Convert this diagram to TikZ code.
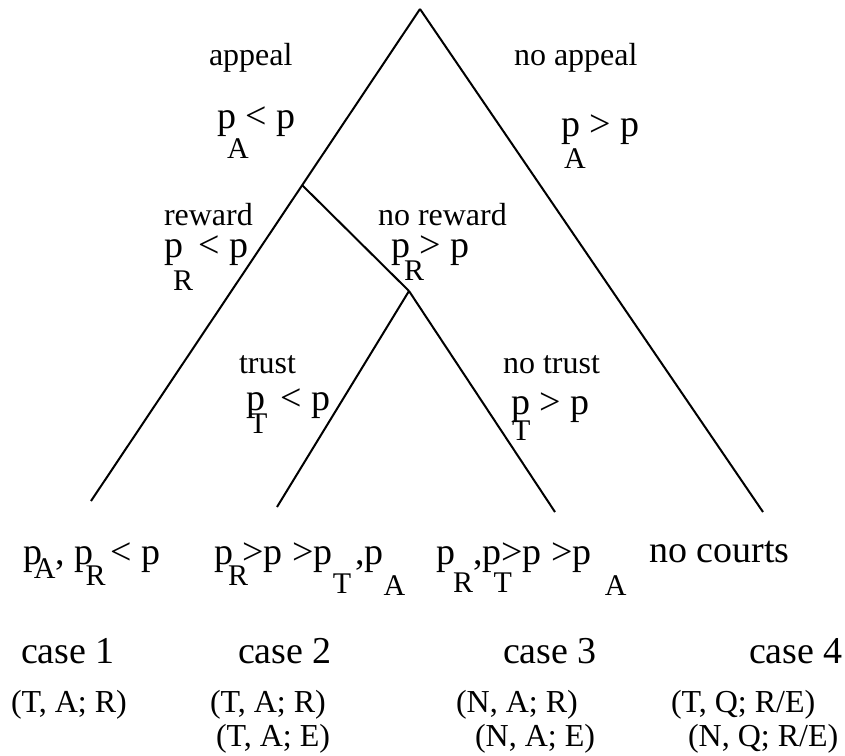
\documentclass[tikz,border=0pt]{standalone}
\usepackage{fontspec}
\setmainfont{Liberation Serif}
\newcommand{\subsz}{\fontsize{15}{15}\selectfont}
\newcommand{\dropsub}[2]{\raisebox{-#1}{\subsz #2}}
\newcommand{\hangsub}[3]{\rlap{\kern#1\dropsub{#2}{#3}}}

\begin{document}
\begin{tikzpicture}[x=0.5pt,y=-0.5pt,line width=1pt,every node/.style={inner sep=0pt,anchor=base west},choice/.style={font=\fontsize{16}{19}\selectfont},cond/.style={font=\fontsize{19}{23}\selectfont},payoff/.style={font=\fontsize{16}{19}\selectfont}]
\useasboundingbox (0,0) rectangle (845,755);
\coordinate (root) at (420,9);
\coordinate (split1) at (302,185);
\coordinate (split2) at (409,291);
\coordinate (leaf1) at (91,501);
\coordinate (leaf2) at (277,507);
\coordinate (leaf3) at (555,512);
\coordinate (leaf4) at (763,512);
\draw (root) -- (leaf1);
\draw (root) -- (leaf4);
\draw (split1) -- (split2);
\draw (split2) -- (leaf2);
\draw (split2) -- (leaf3);
% branch labels
\node[choice] (appeal) at (208,65) {appeal};
\node[cond] (condA) at (216,128) {p\hangsub{-4.5pt}{15pt}{A} < p};
\node[choice] (noappeal) at (513,65) {no appeal};
\node[cond] (condnA) at (560,136) {p\hangsub{-8pt}{16pt}{A} > p};
\node[choice] (reward) at (163,225) {reward};
\node[cond] (condR) at (163,257) {p\hangsub{-5pt}{16.5pt}{R}\kern3pt{} < p};
\node[choice] (noreward) at (377,225) {no reward};
\node[cond] (condnR) at (390,257) {p\hangsub{-3pt}{11.5pt}{R} > p};
\node[choice] (trust) at (238,373) {trust};
\node[cond] (condT) at (245,410) {p\hangsub{-8pt}{11.5pt}{T}\kern3pt{} < p};
\node[choice] (notrust) at (502,373) {no trust};
\node[cond] (condnT) at (510,414) {p\hangsub{-9pt}{13pt}{T} > p};
% outcomes
\node[cond] (out1) at (23,564) {p\kern-4.5pt\dropsub{7pt}{A}, p\hangsub{-4pt}{10.5pt}{R}\kern3.5pt{} < p};
\node[cond] (out2) at (213,564) {p\hangsub{-2.5pt}{10.5pt}{R} >p >p\dropsub{14.5pt}{T}\kern2pt,p\dropsub{15.5pt}{A}};
\node[cond] (out3) at (435,564) {p\kern-1pt\dropsub{14pt}{R},p\hangsub{-4pt}{14pt}{T}>p >p\kern6.5pt\dropsub{15.5pt}{A}};
\node[cond] (out4) at (648,562) {no courts};
\node[cond] (case1) at (20,663) {case 1};
\node[cond] (case2) at (237,663) {case 2};
\node[cond] (case3) at (502,663) {case 3};
\node[cond] (case4) at (748,663) {case 4};
\node[payoff] (eq1a) at (10,712) {(T, A; R)};
\node[payoff] (eq2a) at (209,712) {(T, A; R)};
\node[payoff] (eq2b) at (215,746) {(T, A; E)};
\node[payoff] (eq3a) at (455,712) {(N, A; R)};
\node[payoff] (eq3b) at (474,746) {(N, A; E)};
\node[payoff] (eq4a) at (670,712) {(T, Q; R/E)};
\node[payoff] (eq4b) at (687,746) {(N, Q; R/E)};
\end{tikzpicture}
\end{document}
